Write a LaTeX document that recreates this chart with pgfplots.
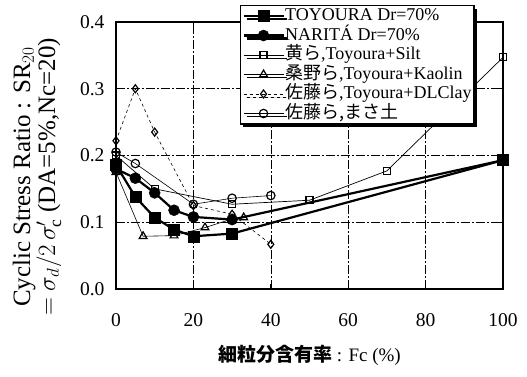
\documentclass[border=0pt]{standalone}
\usepackage{pgfplots}
\pgfplotsset{compat=1.18}
\usepackage{fontspec}
\setmainfont{Liberation Serif}
\newfontfamily\cjk{Noto Sans CJK JP}
\usetikzlibrary{shadows}
\begin{document}
\begin{tikzpicture}
\path[use as bounding box] (-116pt,-87pt) rectangle (411pt,289pt);
\begin{axis}[
  at={(0pt,0pt)}, anchor=south west,
  scale only axis, width=387pt, height=267pt,
  xmin=0, xmax=100, ymin=0, ymax=0.4,
  xtick={0,20,40,60,80,100},
  ytick={0,0.1,0.2,0.3,0.4},
  yticklabel style={/pgf/number format/fixed, /pgf/number format/fixed zerofill, /pgf/number format/precision=1},
  /pgf/number format/assume math mode=true,
  tick label style={font=\fontsize{19.5}{19.5}\selectfont},
  xticklabel style={yshift=-21pt},
  yticklabel style={xshift=-8pt},
  tick align=inside, major tick length=5pt,
  axis line style={line width=1.6pt},
  tick style={line width=0.8pt, black},
  grid=major,
  grid style={black, line width=0.6pt, dash pattern=on 9pt off 2pt on 2pt off 2pt},
  clip=false,
  xlabel={{\cjk\bfseries 細粒分含有率} : Fc (\%)},
  xlabel style={font=\fontsize{19}{19}\selectfont, at={(axis description cs:0.5,0)}, anchor=center, yshift=-66pt},
  ylabel={Cyclic Stress Ratio : SR$_{20}$\\ $=\sigma_d/2\,\sigma'_{\rm c}$ (DA=5\%,Nc=20)},
  ylabel style={font=\fontsize{25}{25}\selectfont, align=center, at={(axis description cs:-0.132,0.42)}, anchor=south, rotate=0},
  legend style={at={(axis description cs:0.320,1.064)}, anchor=north west,
    draw=black, line width=1.2pt, fill=white,
    drop shadow={shadow xshift=3pt, shadow yshift=-3pt, fill=black, opacity=1},
    font=\fontsize{18}{18}\selectfont, inner sep=2pt, row sep=2.5pt,
    nodes={inner sep=0.5pt, text height=12.5pt, text depth=3.5pt},
    cells={anchor=west}},
  legend image code/.code={\draw[#1] (0pt,0pt) -- (40pt,0pt); \draw[#1, only marks] plot coordinates {(20pt,0pt)};},
]
\addplot[black, line width=2.2pt, mark=square*, mark size=5.5pt, mark options={solid, line width=0.5pt}]
  coordinates {(0,0.186) (5,0.138) (10,0.107) (15,0.089) (20,0.079) (30,0.083) (100,0.193)};
\addlegendentry{TOYOURA Dr=70\%}
\addplot[black, line width=2.2pt, mark=*, mark size=5.5pt, mark options={solid, line width=0.5pt}]
  coordinates {(0,0.18) (5,0.166) (10,0.144) (15,0.118) (20,0.108) (30,0.104) (100,0.193)};
\addlegendentry{NARITÁ Dr=70\%}
\addplot[black, line width=0.7pt, mark=square, mark size=3.5pt, mark options={solid, fill=white, line width=1.2pt}]
  coordinates {(0,0.2) (10,0.15) (30,0.127) (50,0.133) (70,0.177) (100,0.347)};
\addlegendentry{{\cjk 黄ら},Toyoura+Silt}
\addplot[black, line width=0.6pt, mark=triangle, mark size=4.5pt, mark options={solid, fill=white, line width=1.2pt}]
  coordinates {(0,0.175) (7,0.079) (15,0.08) (23,0.092) (30,0.105) (33,0.107)};
\addlegendentry{{\cjk 桑野ら},Toyoura+Kaolin}
\addplot[black, line width=0.6pt, dashed, mark=diamond, mark size=4pt, mark options={solid, fill=white, line width=1.2pt}]
  coordinates {(0,0.222) (5,0.30) (10,0.235) (20,0.125) (30,0.112) (40,0.067)};
\addlegendentry{{\cjk 佐藤ら},Toyoura+DLClay}
\addplot[black, line width=0.6pt, mark=o, mark size=4.2pt, mark options={solid, fill=white, line width=1.2pt}]
  coordinates {(0,0.205) (5,0.188) (20,0.127) (30,0.136) (40,0.14)};
\addlegendentry{{\cjk 佐藤ら,まさ土}}
\end{axis}
\end{tikzpicture}
\end{document}
